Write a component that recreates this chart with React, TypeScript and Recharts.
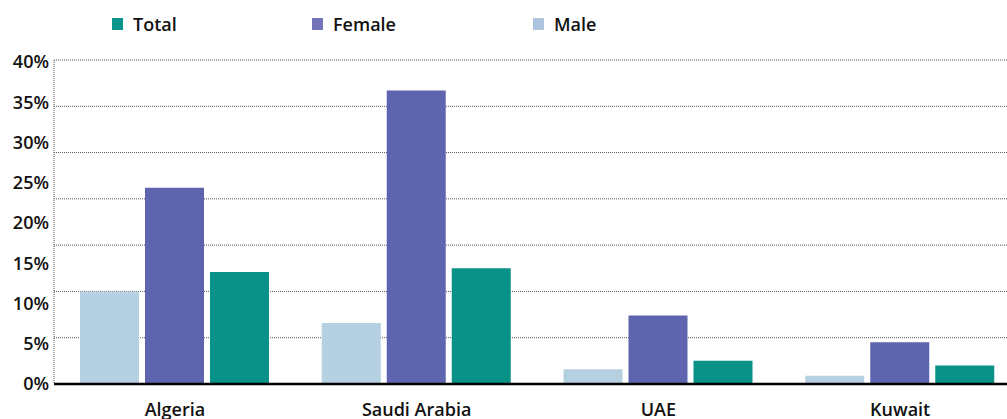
import React from 'react';
import { BarChart, Bar, XAxis, YAxis, CartesianGrid } from 'recharts';

const countries = ['Algeria', 'Saudi Arabia', 'UAE', 'Kuwait'];
const male = [10.0, 6.6, 1.6, 0.9];
const female = [21.2, 31.7, 7.4, 4.5];
const total = [12.1, 12.5, 2.5, 2.0];

// the printed labels run 0-40% while the gridlines run on a 0-35 scale
const labelTicks = [0, 5, 10, 15, 20, 25, 30, 35, 40];
const gridTicks = [0, 5, 10, 15, 20, 25, 30, 35];

const legendItems = [
  { name: 'Total', color: '#08968a', left: 112 },
  { name: 'Female', color: '#7474b8', left: 312 },
  { name: 'Male', color: '#aec3de', left: 533 },
];

const data = countries.map((country, i) => ({
  country,
  Male: male[i],
  Female: female[i],
  Total: total[i],
}));

const font = "'Open Sans', 'Noto Sans', sans-serif";

function TopLegend() {
  return (
    <div style={{ position: 'absolute', top: 0, left: 0, width: 1007, height: 50 }}>
      {legendItems.map((item) => (
        <div
          key={item.name}
          style={{
            position: 'absolute',
            left: item.left,
            top: 12,
            display: 'flex',
            alignItems: 'center',
            fontFamily: font,
            fontSize: 18,
            fontWeight: 600,
            color: '#111',
          }}
        >
          <span
            style={{
              display: 'inline-block',
              width: 11,
              height: 12,
              background: item.color,
              marginRight: 10,
            }}
          />
          {item.name}
        </div>
      ))}
    </div>
  );
}

export default function App() {
  return (
    <div
      style={{
        position: 'fixed',
        top: 0,
        left: 0,
        width: 1007,
        height: 419,
        overflow: 'hidden',
        background: '#fff',
      }}
    >
      <TopLegend />
      <BarChart
        width={1021}
        height={440}
        data={data}
        margin={{ top: 60, right: 0, left: 0, bottom: 0 }}
        barGap={6}
        barSize={59}
      >
        <CartesianGrid
          yAxisId="grid"
          vertical={false}
          stroke="#555"
          strokeDasharray="1 1"
        />
        <XAxis
          dataKey="country"
          height={56}
          interval={0}
          tickLine={false}
          tickSize={0}
          tickMargin={19}
          axisLine={{ stroke: '#000', strokeWidth: 2.5 }}
          tick={{ fill: '#111', fontSize: 18, fontWeight: 600, fontFamily: font }}
        />
        <YAxis
          yAxisId="label"
          width={54}
          domain={[0, 40]}
          allowDataOverflow
          ticks={labelTicks}
          interval={0}
          padding={{ top: 2 }}
          tickFormatter={(v) => `${v}%`}
          tickLine={false}
          tickSize={0}
          tickMargin={5}
          axisLine={{ stroke: '#555', strokeDasharray: '1 1' }}
          tick={{ fill: '#111', fontSize: 18, fontWeight: 600, fontFamily: font }}
        />
        <YAxis
          yAxisId="grid"
          orientation="right"
          width={0}
          hide
          domain={[0, 35]}
          allowDataOverflow
          ticks={gridTicks}
        />
        <Bar yAxisId="grid" dataKey="Male" fill="#b5d0e1" isAnimationActive={false} />
        <Bar yAxisId="grid" dataKey="Female" fill="#5f64ae" isAnimationActive={false} />
        <Bar yAxisId="grid" dataKey="Total" fill="#079187" isAnimationActive={false} />
      </BarChart>
    </div>
  );
}
